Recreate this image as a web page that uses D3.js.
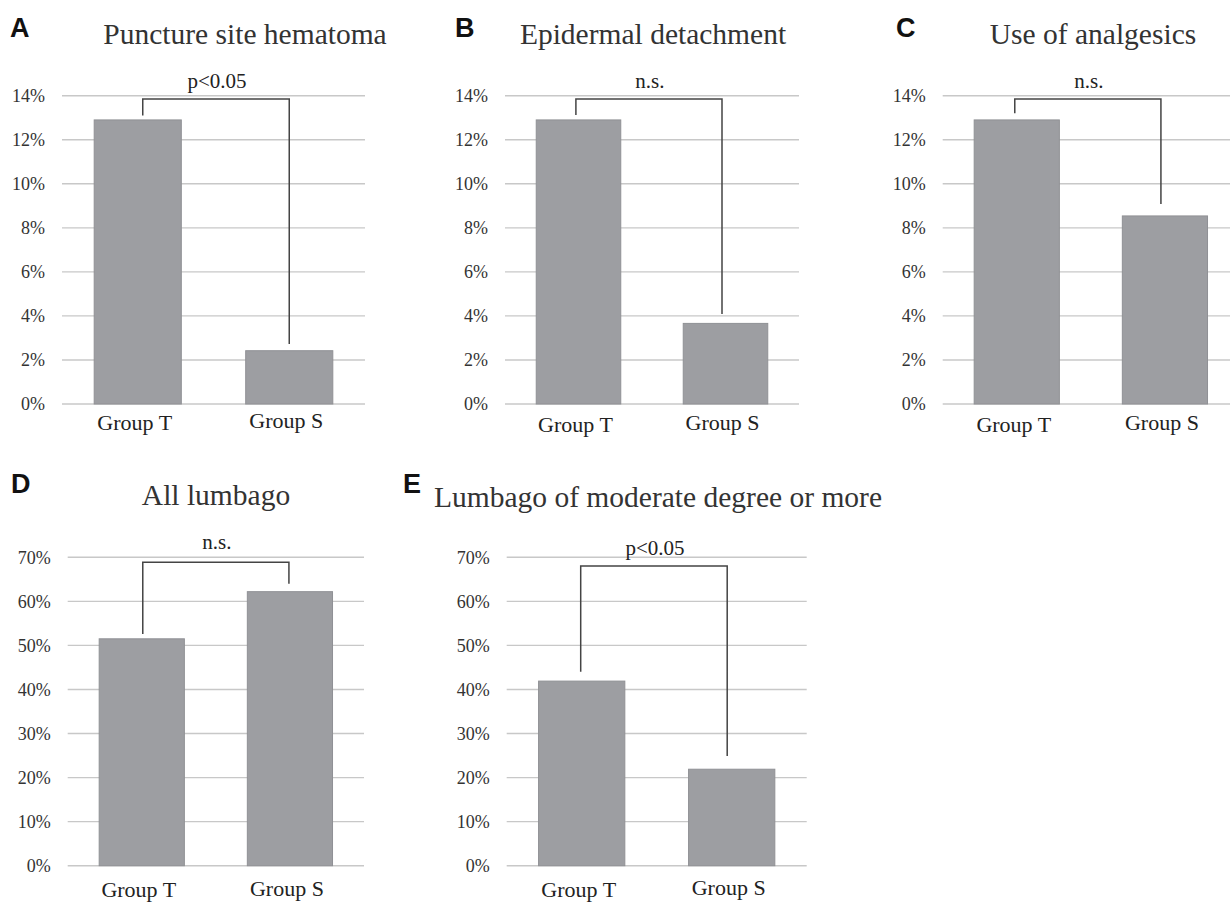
<!DOCTYPE html>
<html>
<head>
<meta charset="utf-8">
<script src="https://cdn.jsdelivr.net/npm/d3@7"></script>
<style>
  body { margin: 0; background: #fff; }
  svg { display: block; }
</style>
</head>
<body>
<div id="chart"></div>
<script>
// data
const categories = ["Group T", "Group S"];
const panelLetters = ["A", "B", "C", "D", "E"];
const panelTitles = [
    "Puncture site hematoma",
    "Epidermal detachment",
    "Use of analgesics",
    "All lumbago",
    "Lumbago of moderate degree or more"
];
const hematoma = [0.129, 0.0242];
const epidermal = [0.129, 0.0366];
const analgesics = [0.129, 0.0854];
const allLumbago = [0.515, 0.622];
const moderateLumbago = [0.419, 0.219];
const smallTicks = [0, 0.02, 0.04, 0.06, 0.08, 0.10, 0.12, 0.14];
const largeTicks = [0, 0.1, 0.2, 0.3, 0.4, 0.5, 0.6, 0.7];
const significance = ["p<0.05", "n.s.", "n.s.", "n.s.", "p<0.05"];
// bracket: horizontal level, then where the left / right legs stop
const bracketLevels = [0.1385, 0.1385, 0.1385, 0.689, 0.680];
const bracketLegs = [[0.131, 0.0272], [0.1312, 0.0409], [0.132, 0.0908], [0.526, 0.640], [0.440, 0.249]];

const seriesList = [hematoma, epidermal, analgesics, allLumbago, moderateLumbago];
const tickList = [smallTicks, smallTicks, smallTicks, largeTicks, largeTicks];

// layout of each panel (pixels)
const layout = [
    { x0: 62, x1: 365, y0: 404, y1: 95.7, letterX: 10, letterY: 37, titleX: 245, titleY: 44, labelDy: 26, noteDy: 11, legDx: [5, 0] },
    { x0: 505, x1: 799, y0: 404, y1: 95.7, letterX: 455, letterY: 37, titleX: 653, titleY: 44, labelDy: 27.5, noteDy: 11, legDx: [-2.6, -3.5] },
    { x0: 942.7, x1: 1239, y0: 404, y1: 95.7, letterX: 896, letterY: 37, titleX: 1093, titleY: 44, labelDy: 27.5, noteDy: 11, legDx: [-2, -4] },
    { x0: 67.7, x1: 364, y0: 865.7, y1: 557.3, letterX: 11, letterY: 493, titleX: 216, titleY: 505, labelDy: 31.5, noteDy: 13, legDx: [1, -1] },
    { x0: 506.7, x1: 806.7, y0: 865.7, y1: 557.3, letterX: 403, letterY: 493, titleX: 658, titleY: 506.5, labelDy: 31, noteDy: 11, legDx: [-1, -4.5] }
];

const width = 1230;
const height = 902;
const serif = '"Liberation Serif", Tinos, serif';

const svg = d3.select('#chart')
    .append('svg')
    .attr('width', width)
    .attr('height', height);

const pct = d3.format(".0%");

panelLetters.forEach((letter, i) => {
    const L = layout[i];
    const values = seriesList[i];
    const ticks = tickList[i];
    const g = svg.append('g');

    const x = d3.scaleBand()
        .domain(categories)
        .range([L.x0, L.x1])
        .paddingInner(0.425)
        .paddingOuter(0.2125);

    const y = d3.scaleLinear()
        .domain([0, d3.max(ticks)])
        .range([L.y0, L.y1]);

    // gridlines
    g.selectAll('.grid')
        .data(ticks)
        .enter()
        .append('line')
        .attr('x1', L.x0)
        .attr('x2', L.x1)
        .attr('y1', d => y(d))
        .attr('y2', d => y(d))
        .attr('stroke', '#c8c8c8')
        .attr('stroke-width', 1.4);

    // y axis labels
    const yAxis = g.append('g')
        .attr('transform', `translate(${L.x0},0)`)
        .call(d3.axisLeft(y).tickValues(ticks).tickFormat(pct).tickSize(0).tickPadding(17));
    yAxis.attr('font-family', null).attr('font-size', null);
    yAxis.select('.domain').remove();
    yAxis.selectAll('text')
        .style('font-family', serif)
        .style('font-size', '18px')
        .attr('fill', '#333');

    // bars
    g.selectAll('.bar')
        .data(values)
        .enter()
        .append('rect')
        .attr('x', (d, j) => x(categories[j]))
        .attr('width', x.bandwidth())
        .attr('y', d => y(d))
        .attr('height', d => y(0) - y(d))
        .attr('fill', '#9d9ea2')
        .attr('stroke', '#909195')
        .attr('stroke-width', 1);

    // category labels
    g.selectAll('.cat')
        .data(categories)
        .enter()
        .append('text')
        .attr('x', d => x(d) + x.bandwidth() / 2 - 3)
        .attr('y', (d, j) => L.y0 + L.labelDy - j * 1.7)
        .attr('text-anchor', 'middle')
        .style('font-family', serif)
        .style('font-size', '22px')
        .attr('fill', '#222')
        .text(d => d);

    // significance bracket
    const cx = categories.map((c, j) => x(c) + x.bandwidth() / 2 + L.legDx[j]);
    const legs = bracketLegs[i];
    const lvl = y(bracketLevels[i]);
    g.append('path')
        .attr('d', `M${cx[0]},${y(legs[0])}V${lvl}H${cx[1]}V${y(legs[1])}`)
        .attr('fill', 'none')
        .attr('stroke', '#444')
        .attr('stroke-width', 1.5);

    g.append('text')
        .attr('x', (cx[0] + cx[1]) / 2 + 1)
        .attr('y', lvl - L.noteDy)
        .attr('text-anchor', 'middle')
        .style('font-family', serif)
        .style('font-size', '21px')
        .attr('fill', '#222')
        .text(significance[i]);

    // panel letter and title
    g.append('text')
        .attr('x', L.letterX)
        .attr('y', L.letterY)
        .style('font-family', '"Liberation Sans", Arial, sans-serif')
        .style('font-weight', 'bold')
        .style('font-size', '27px')
        .attr('fill', '#111')
        .text(letter);

    g.append('text')
        .attr('x', L.titleX)
        .attr('y', L.titleY)
        .attr('text-anchor', 'middle')
        .style('font-family', serif)
        .style('font-size', '29.5px')
        .attr('fill', '#333')
        .text(panelTitles[i]);
});
</script>
</body>
</html>
